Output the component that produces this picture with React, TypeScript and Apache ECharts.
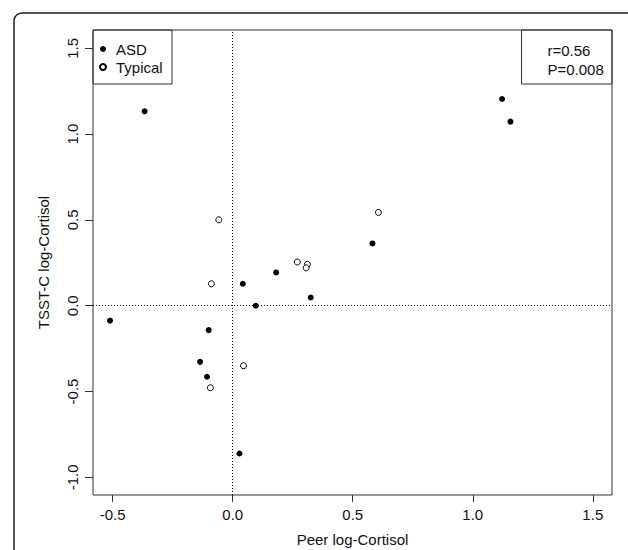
import React, { useEffect, useRef } from "react";
import * as echarts from "echarts";

const asdX = [-0.367, 1.122, 1.157, 0.582, 0.181, 0.042, 0.325, 0.096, -0.511, -0.1, -0.136, -0.107, 0.028];
const asdY = [1.133, 1.205, 1.073, 0.363, 0.194, 0.128, 0.048, 0.0, -0.087, -0.142, -0.327, -0.414, -0.861];
const typX = [-0.058, 0.607, 0.269, 0.311, 0.306, -0.089, 0.045, -0.093];
const typY = [0.501, 0.544, 0.255, 0.241, 0.221, 0.128, -0.35, -0.478];
const xTicks = [-0.5, 0, 0.5, 1.0, 1.5];
const yTicks = [-1.0, -0.5, 0, 0.5, 1.0, 1.5];
const statLines = ["r=0.56", "P=0.008"];

const FONT = "'Liberation Sans', Arial, sans-serif";
const TXT = "#111";
const FS = 15;

export default function App() {
  const ref = useRef<HTMLDivElement>(null);
  useEffect(() => {
    if (!ref.current) return;
    const chart = echarts.init(ref.current, undefined, { renderer: "svg" });
    const fmt = (v: number) => v.toFixed(1);
    chart.setOption({
      animation: false,
      backgroundColor: "#fff",
      textStyle: { fontFamily: FONT },
      grid: {
        left: 93,
        top: 30,
        right: 16,
        bottom: 55,
        containLabel: false,
        outerBoundsMode: "none",
        show: true,
        borderColor: "#333",
        borderWidth: 1,
        backgroundColor: "transparent",
      },
      legend: {
        left: 93,
        top: 40,
        orient: "vertical",
        padding: [0, 0, 0, 6],
        itemWidth: 16,
        itemHeight: 6,
        itemGap: 0,
        textStyle: { fontFamily: FONT, fontSize: FS, color: TXT, lineHeight: 18 },
        data: ["ASD", "Typical"],
      },
      xAxis: {
        type: "value",
        min: -0.582,
        max: 1.58,
        name: "Peer log-Cortisol",
        nameLocation: "middle",
        nameGap: 37,
        nameTextStyle: { fontFamily: FONT, fontSize: FS, color: TXT },
        axisLine: { show: false, onZero: false },
        axisTick: { show: true, inside: false, length: 7, lineStyle: { color: "#333" }, customValues: xTicks },
        axisLabel: {
          show: true,
          margin: 12,
          fontFamily: FONT,
          fontSize: FS,
          color: TXT,
          customValues: xTicks,
          formatter: fmt,
        },
        splitLine: { show: false },
      },
      yAxis: {
        type: "value",
        min: -1.103,
        max: 1.607,
        name: "TSST-C log-Cortisol",
        nameLocation: "middle",
        nameGap: 42,
        nameTextStyle: { fontFamily: FONT, fontSize: FS, color: TXT },
        axisLine: { show: false, onZero: false },
        axisTick: { show: true, inside: false, length: 8, lineStyle: { color: "#333" }, customValues: yTicks },
        axisLabel: {
          show: true,
          rotate: 90,
          margin: 13,
          fontFamily: FONT,
          fontSize: FS,
          color: TXT,
          customValues: yTicks,
          formatter: fmt,
        },
        splitLine: { show: false },
      },
      series: [
        {
          name: "ASD",
          type: "scatter",
          symbol: "circle",
          symbolSize: 6,
          itemStyle: { color: "#000", opacity: 1 },
          data: asdX.map((x, i) => [x, asdY[i]]),
          markLine: {
            silent: true,
            symbol: "none",
            label: { show: false },
            lineStyle: { color: "#000", width: 1, type: [1, 2] },
            data: [{ xAxis: 0 }, { yAxis: 0 }],
          },
          z: 3,
        },
        {
          name: "Typical",
          type: "scatter",
          symbol: "circle",
          symbolSize: 6,
          itemStyle: { color: "#fff", borderColor: "#000", borderWidth: 1, opacity: 1 },
          data: typX.map((x, i) => [x, typY[i]]),
          z: 3,
        },
      ],
      graphic: [
        {
          type: "rect",
          shape: { x: 14, y: 13, width: 700, height: 700, r: 8 },
          style: { fill: "none", stroke: "#222", lineWidth: 1.5 },
          silent: true,
        },
        {
          type: "rect",
          shape: { x: 93, y: 30, width: 79, height: 54 },
          style: { fill: "none", stroke: "#333", lineWidth: 1 },
          silent: true,
        },
        {
          type: "rect",
          shape: { x: 521.5, y: 30, width: 90.5, height: 54 },
          style: { fill: "none", stroke: "#333", lineWidth: 1 },
          silent: true,
        },
        ...statLines.map((t, i) => ({
          type: "text",
          x: 547.5,
          y: 50.5 + i * 18.5,
          style: {
            text: t,
            fontFamily: FONT,
            fontSize: FS,
            fill: TXT,
            textAlign: "left",
            textVerticalAlign: "middle",
          },
          silent: true,
        })),
      ],
    });
    return () => chart.dispose();
  }, []);
  return (
    <div
      ref={ref}
      style={{ position: "fixed", left: 0, top: 0, width: 628, height: 550 }}
    />
  );
}
